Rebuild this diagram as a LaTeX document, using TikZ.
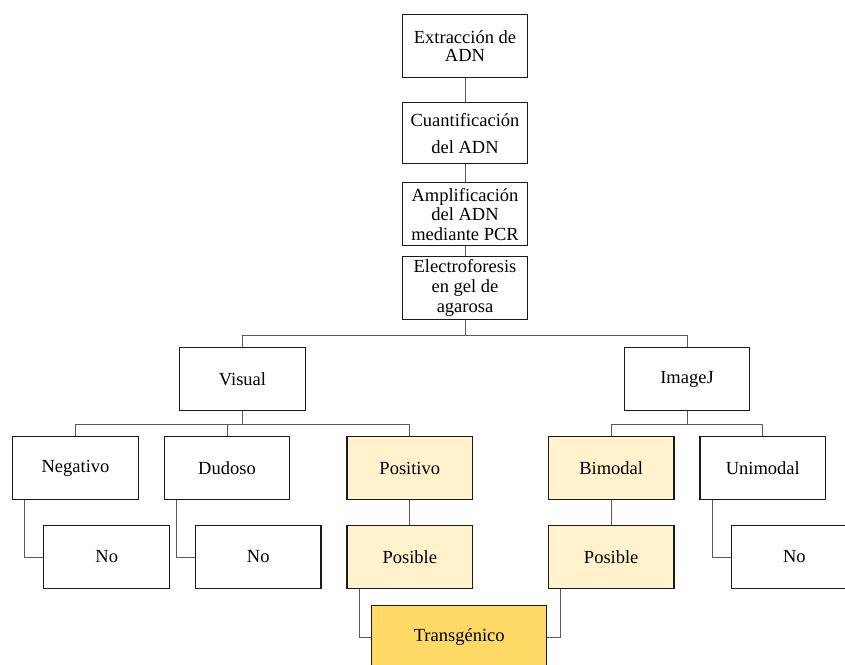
\documentclass[tikz,border=0pt]{standalone}
\usepackage{fontspec}
\setmainfont{Liberation Serif}
\usetikzlibrary{calc}
\definecolor{lightfill}{HTML}{FFF2CC}
\definecolor{goldfill}{HTML}{FFD966}
\definecolor{boxline}{HTML}{1A1A1A}
\definecolor{conline}{HTML}{5A5A5A}
\tikzset{
  box/.style={draw=boxline, line width=1.15pt, fill=white, minimum width=125.6pt, minimum height=62.8pt,
    inner sep=0pt, align=center, font=\fontsize{18.5}{20}\selectfont},
  hl/.style={box, fill=lightfill},
  gold/.style={box, fill=goldfill, minimum width=175.3pt},
  con/.style={draw=conline, line width=0.95pt},
}
\begin{document}
\begin{tikzpicture}[x=1pt,y=-1pt]
\clip (0,0) rectangle (845,664);
\fill[white] (0,0) rectangle (845,664);
% top column
\node[box, font=\fontsize{18.5}{17.5}\selectfont] (ext) at (465,46) {Extracción de\\ADN};
\node[box, minimum height=61pt, font=\fontsize{18.5}{27.4}\selectfont] (cua) at (465,133.3) {Cuantificación\\del ADN};
\node[box, font=\fontsize{18.5}{19.5}\selectfont] (amp) at (465,214.3) {Amplificación\\del ADN\\mediante PCR};
\node[box, font=\fontsize{18.5}{20}\selectfont] (ele) at (465,288) {Electroforesis\\en gel de\\agarosa};
% level 2
\node[box] (vis) at (242.5,379) {Visual};
\node[box] (img) at (687,379) {ImageJ};
% level 3
\node[box] (neg) at (75.5,468.2) {Negativo};
\node[box] (dud) at (227,468.2) {Dudoso};
\node[hl] (pos) at (409.8,468.2) {Positivo};
\node[hl] (bim) at (611.2,468.2) {Bimodal};
\node[box] (uni) at (762.8,468.2) {Unimodal};
% level 4
\node[box] (no1) at (106.7,557) {No};
\node[box] (no2) at (258.2,557) {No};
\node[hl] (psa) at (409.8,557) {Posible};
\node[hl] (psb) at (611.2,557) {Posible};
\node[box] (no3) at (794.3,557) {No};
% level 5
\node[gold] (tra) at (459.2,637) {Transgénico};
% connectors
\draw[con] (ext.south) -- (cua.north);
\draw[con] (cua.south) -- (amp.north);
\draw[con] (amp.south) -- (ele.north);
\draw[con] (ele.south) -- ++(0,15.1) -| (vis.north);
\draw[con] (ele.south) -- ++(0,15.1) -| (img.north);
\draw[con] (vis.south) -- ++(0,13.3) -| (neg.north);
\draw[con] (vis.south) -- ++(0,13.3) -| (dud.north);
\draw[con] (vis.south) -- ++(0,13.3) -| (pos.north);
\draw[con] (img.south) -- ++(0,13.3) -| (bim.north);
\draw[con] (img.south) -- ++(0,13.3) -| (uni.north);
\draw[con] ($(neg.south west)+(12.6,0)$) |- (no1.west);
\draw[con] ($(dud.south west)+(12.6,0)$) |- (no2.west);
\draw[con] ($(uni.south west)+(12.6,0)$) |- (no3.west);
\draw[con] (pos.south) -- (psa.north);
\draw[con] (bim.south) -- (psb.north);
\draw[con] ($(psa.south west)+(12.6,0)$) |- (tra.west);
\draw[con] ($(psb.south west)+(12.6,0)$) |- (tra.east);
\end{tikzpicture}
\end{document}
